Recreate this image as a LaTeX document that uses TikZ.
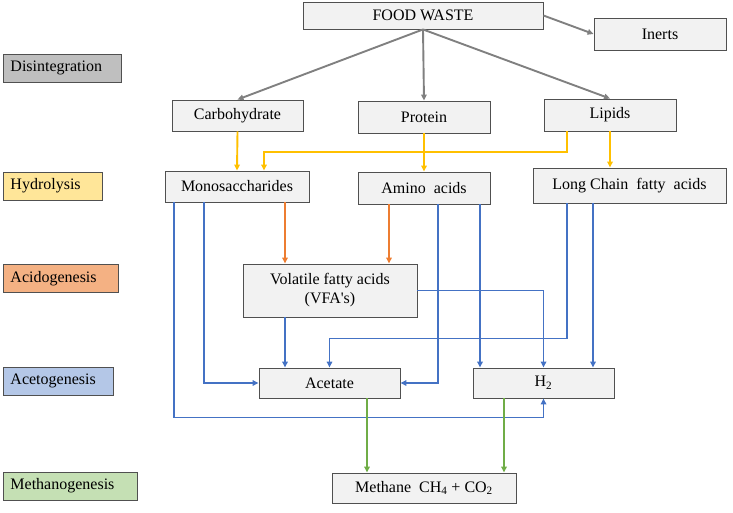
\documentclass[tikz,border=0pt]{standalone}
\usepackage{fontspec}
\setmainfont{Liberation Serif}
\usetikzlibrary{arrows.meta}

\definecolor{boxfill}{HTML}{F2F2F2}
\definecolor{boxline}{HTML}{505050}
\definecolor{disgray}{HTML}{BFBFBF}
\definecolor{hydyellow}{HTML}{FFE699}
\definecolor{acidorange}{HTML}{F4B183}
\definecolor{acetblue}{HTML}{B4C7E7}
\definecolor{methgreen}{HTML}{C5E0B4}
\definecolor{arrgray}{HTML}{808080}
\definecolor{arryellow}{HTML}{FFC000}
\definecolor{arrorange}{HTML}{ED7D31}
\definecolor{arrblue}{HTML}{4472C4}
\definecolor{arrgreen}{HTML}{70AD47}

\tikzset{
  stage/.style={draw=boxline, fill=boxfill, line width=0.9pt, inner sep=2pt, align=center},
  phase/.style={draw=boxline, line width=0.9pt, anchor=west, inner xsep=7pt, inner ysep=0pt, minimum height=28pt, align=left},
  flow/.style={line width=1.9pt, -{Triangle[length=6pt,width=5.5pt]}}
}

\begin{document}
\begin{tikzpicture}[x=1pt, y=-1pt, font=\fontsize{16}{19}\selectfont]
            \useasboundingbox (0,0) rectangle (733,513);

            % Fases
            \node[phase, fill=disgray, text width=104pt] (dis) at (3,68) {Disintegration};
            \node[phase, fill=hydyellow, text width=85pt] (hyd) at (3,186) {Hydrolysis};
            \node[phase, fill=acidorange, text width=101pt] (acid) at (3,278.5) {Acidogenesis};
            \node[phase, fill=acetblue, text width=96pt] (aceto) at (3,381) {Acetogenesis};
            \node[phase, fill=methgreen, text width=120pt] (methano) at (3,486) {Methanogenesis};

            % Cajas
            \node[stage, minimum width=240pt, minimum height=27pt] (food) at (423,15.5) {FOOD WASTE};
            \node[stage, minimum width=132pt, minimum height=32pt] (inerts) at (660,34) {Inerts};
            \node[stage, minimum width=131pt, minimum height=31pt] (carb) at (237.5,115.5) {Carbohydrate};
            \node[stage, minimum width=132pt, minimum height=32pt] (prot) at (424,117) {Protein};
            \node[stage, minimum width=132pt, minimum height=32pt] (lip) at (610,115) {Lipids};
            \node[stage, minimum width=144pt, minimum height=31pt] (mono) at (237,186.5) {Monosaccharides};
            \node[stage, minimum width=132pt, minimum height=32pt] (amino) at (424,188) {Amino\enspace acids};
            \node[stage, minimum width=193pt, minimum height=35pt] (lcfa) at (629.5,185.5) {Long Chain\enspace fatty\enspace acids};
            \node[stage, minimum width=174pt, minimum height=53pt] (vfa) at (330,290.5) {Volatile fatty acids\\(VFA\textquotesingle s)};
            \node[stage, minimum width=141pt, minimum height=30pt] (acet) at (329.5,383) {Acetate};
            \node[stage, minimum width=141pt, minimum height=30pt] (htwo) at (543.5,383) {H\textsubscript{2}};
            \node[stage, minimum width=184pt, minimum height=30pt] (meth) at (424,488) {Methane\enspace CH\textsubscript{4} + CO\textsubscript{2}};

            % Desintegracion
            \draw[flow, arrgray] (food.south) -- (carb.north);
            \draw[flow, arrgray] (food.south) -- (prot.north);
            \draw[flow, arrgray] (food.south) -- (lip.north);
            \draw[flow, arrgray] (food.east) -- (inerts.west);

            % Hidrolisis
            \draw[flow, arryellow] (carb.south) -- (mono.north);
            \draw[flow, arryellow] (prot.south) -- (amino.north);
            \draw[flow, arryellow] ([xshift=-43pt]lip.south) -- ++(0,21) -| ([xshift=27pt]mono.north);
            \draw[flow, arryellow] (lip.south) -- (lip.south |- lcfa.north);

            % Acidogenesis
            \draw[flow, arrorange] ([xshift=48pt]mono.south) -- ([xshift=48pt]mono.south |- vfa.north);
            \draw[flow, arrorange] ([xshift=-35pt]amino.south) -- ([xshift=-35pt]amino.south |- vfa.north);

            % Acetogenesis
            \draw[flow, arrblue] ([xshift=-63pt]mono.south) -- ++(0,215) -| (htwo.south);
            \draw[flow, arrblue] ([xshift=-33pt]mono.south) |- (acet.west);
            \draw[flow, arrblue] ([xshift=14pt]amino.south) |- (acet.east);
            \draw[flow, arrblue] ([xshift=56pt]amino.south) -- ([xshift=56pt]amino.south |- htwo.north);
            \draw[flow, arrblue] (vfa.east) -| (htwo.north);
            \draw[flow, arrblue] ([xshift=-45pt]vfa.south) -- ([xshift=-45pt]vfa.south |- acet.north);
            \draw[flow, arrblue] ([xshift=-62.5pt]lcfa.south) -- ++(0,135) -| (acet.north);
            \draw[flow, arrblue] ([xshift=-36.5pt]lcfa.south) -- ([xshift=-36.5pt]lcfa.south |- htwo.north);

            % Metanogenesis
            \draw[flow, arrgreen] ([xshift=37.5pt]acet.south) -- ([xshift=37.5pt]acet.south |- meth.north);
            \draw[flow, arrgreen] ([xshift=-39.5pt]htwo.south) -- ([xshift=-39.5pt]htwo.south |- meth.north);
        \end{tikzpicture}
\end{document}
